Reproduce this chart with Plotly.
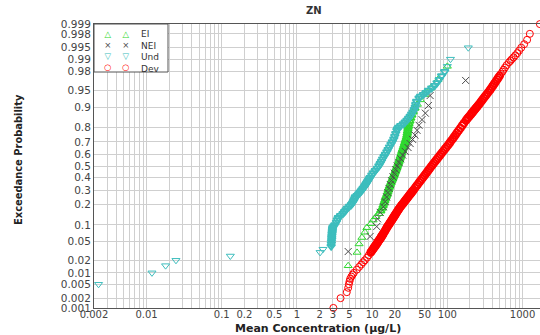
import math
import plotly.graph_objects as go
from statistics import NormalDist

# ---------------- data ----------------
ei_p = [0.0149, 0.0299, 0.0448, 0.0597, 0.0746, 0.0896, 0.1045, 0.1194, 0.1343, 0.1493,
        0.1642, 0.1791, 0.194, 0.209, 0.224, 0.239, 0.254, 0.269, 0.284, 0.299,
        0.313, 0.328, 0.343, 0.358, 0.373, 0.388, 0.403, 0.418, 0.433, 0.448,
        0.463, 0.478, 0.493, 0.507, 0.522, 0.537, 0.552, 0.567, 0.582, 0.597,
        0.612, 0.627, 0.642, 0.657, 0.672, 0.687, 0.701, 0.716, 0.731, 0.746,
        0.761, 0.776, 0.791, 0.806, 0.821, 0.836, 0.851, 0.866, 0.881, 0.896,
        0.910, 0.925, 0.940, 0.955, 0.970, 0.985]
ei_c = [4.8, 6.3, 6.7, 7.3, 8.0, 8.5, 9.6, 10.3, 11.2, 12.3,
        13.0, 13.6, 14.0, 14.4, 14.7, 15.0, 15.4, 15.8, 16.1, 16.4,
        16.7, 17.0, 17.4, 17.8, 18.2, 18.6, 19.0, 19.4, 19.8, 20.2,
        20.6, 21.0, 21.4, 21.8, 22.2, 22.6, 23.0, 23.4, 23.8, 24.2,
        24.6, 25.0, 25.5, 26.0, 26.5, 27.0, 27.5, 28.0, 28.5, 29.0,
        29.3, 29.6, 29.9, 30.3, 30.8, 31.6, 32.5, 33.5, 35.0, 37.0,
        40.0, 44.0, 50.0, 60.0, 75.0, 100.0]

nei_p = [0.03125, 0.0625, 0.09375, 0.125, 0.15625, 0.1875, 0.21875, 0.25, 0.28125, 0.3125,
         0.34375, 0.375, 0.40625, 0.4375, 0.46875, 0.5, 0.53125, 0.5625, 0.59375, 0.625,
         0.65625, 0.6875, 0.71875, 0.75, 0.78125, 0.8125, 0.84375, 0.875, 0.90625, 0.9375,
         0.96875]
nei_c = [4.8, 9.4, 11.5, 11.8, 12.8, 14.1, 14.9, 15.6, 16.2, 16.8,
         17.4, 18.1, 18.9, 19.7, 20.6, 21.5, 22.7, 24.0, 25.5, 27.5,
         30.0, 32.0, 34.5, 37.0, 39.5, 42.0, 46.0, 51.0, 56.0, 59.0,
         175.0]

und_p = [0.005, 0.010, 0.015, 0.020, 0.025, 0.030, 0.035, 0.040, 0.045, 0.050,
         0.055, 0.060, 0.065, 0.070, 0.075, 0.080, 0.085, 0.090, 0.095, 0.10,
         0.11, 0.12, 0.13, 0.14, 0.15, 0.16, 0.17, 0.18, 0.19, 0.20,
         0.21, 0.22, 0.23, 0.24, 0.25, 0.26, 0.27, 0.28, 0.29, 0.30,
         0.31, 0.32, 0.33, 0.34, 0.35, 0.36, 0.37, 0.38, 0.39, 0.40,
         0.42, 0.44, 0.46, 0.48, 0.50, 0.52, 0.54, 0.56, 0.58, 0.60,
         0.62, 0.64, 0.66, 0.68, 0.70, 0.72, 0.74, 0.76, 0.78, 0.79,
         0.80, 0.81, 0.82, 0.83, 0.84, 0.85, 0.86, 0.87, 0.88, 0.89,
         0.90, 0.91, 0.92, 0.93, 0.935, 0.94, 0.945, 0.95, 0.955, 0.96,
         0.965, 0.97, 0.975, 0.98, 0.985, 0.99, 0.995]
und_c = [0.0023, 0.0118, 0.0179, 0.0246, 0.13, 2.03, 2.22, 2.85, 2.87, 2.88,
         2.9, 2.9, 2.92, 2.93, 2.95, 2.96, 2.98, 3.0, 3.1, 3.2,
         3.35, 3.45, 3.55, 3.8, 4.1, 4.3, 4.5, 4.7, 5.0, 5.3,
         5.5, 5.65, 5.8, 5.9, 6.0, 6.3, 6.6, 6.85, 7.1, 7.3,
         7.55, 7.8, 8.0, 8.2, 8.4, 8.6, 8.8, 9.0, 9.2, 9.4,
         9.9, 10.4, 11.0, 11.7, 12.3, 12.8, 13.3, 13.8, 14.4, 15.0,
         15.7, 16.3, 17.0, 17.8, 18.6, 19.4, 20.0, 20.6, 21.3, 21.8,
         22.5, 24.0, 26.0, 27.5, 29.0, 30.5, 32.0, 33.5, 35.0, 36.3,
         37.4, 38.0, 39.0, 42.0, 44.0, 48.0, 52.0, 56.0, 62.0, 68.0,
         73.0, 78.0, 84.0, 92.0, 100.0, 110.0, 190.0]

dev_p = [0.001, 0.002, 0.003, 0.004, 0.005, 0.006, 0.007, 0.008, 0.009, 0.010,
         0.012, 0.014, 0.016, 0.018, 0.020, 0.023, 0.026, 0.030, 0.032, 0.034,
         0.036, 0.038, 0.040, 0.042, 0.044, 0.046, 0.048, 0.050, 0.0525, 0.055,
         0.0575, 0.060, 0.0625, 0.065, 0.0675, 0.070, 0.075, 0.080, 0.085, 0.090,
         0.095, 0.100, 0.105, 0.110, 0.115, 0.120, 0.125, 0.130, 0.135, 0.140,
         0.145, 0.150, 0.1575, 0.165, 0.1725, 0.180, 0.1875, 0.195, 0.2025, 0.210,
         0.2175, 0.225, 0.2325, 0.240, 0.2475, 0.255, 0.2625, 0.270, 0.2775, 0.285,
         0.2925, 0.300, 0.315, 0.330, 0.345, 0.360, 0.375, 0.390, 0.405, 0.420,
         0.435, 0.450, 0.465, 0.480, 0.495, 0.510, 0.525, 0.540, 0.555, 0.570,
         0.585, 0.600, 0.615, 0.630, 0.645, 0.660, 0.675, 0.690, 0.705, 0.720,
         0.735, 0.750, 0.765, 0.780, 0.795, 0.810, 0.825, 0.840, 0.8475, 0.855,
         0.8625, 0.870, 0.875, 0.880, 0.885, 0.890, 0.895, 0.900, 0.905, 0.910,
         0.915, 0.920, 0.925, 0.930, 0.935, 0.940, 0.945, 0.950, 0.954, 0.958,
         0.961, 0.964, 0.967, 0.970, 0.9725, 0.975, 0.9775, 0.980, 0.982, 0.984,
         0.986, 0.988, 0.989, 0.990, 0.991, 0.992, 0.993, 0.994, 0.995, 0.996,
         0.997, 0.998, 0.999]
dev_c = [3.05, 3.8, 4.6, 4.8, 4.9, 5.0, 5.1, 5.3, 5.5, 5.7,
         6.25, 6.71, 7.16, 7.57, 7.98, 8.55, 9.0, 9.57, 9.84, 10.1,
         10.4, 10.6, 10.9, 11.1, 11.4, 11.6, 11.8, 12.0, 12.3, 12.6,
         12.9, 13.1, 13.3, 13.6, 13.8, 14.0, 14.5, 14.9, 15.3, 15.7,
         16.1, 16.6, 17.0, 17.4, 17.9, 18.3, 18.7, 19.1, 19.5, 19.9,
         20.3, 20.7, 21.3, 21.9, 22.5, 23.1, 23.8, 24.5, 25.2, 26.0,
         26.7, 27.5, 28.2, 29.0, 29.8, 30.5, 31.3, 32.1, 32.9, 33.7,
         34.5, 35.4, 37.0, 38.7, 40.4, 42.2, 43.9, 45.9, 47.8, 49.8,
         51.9, 54.0, 56.2, 58.5, 60.8, 63.4, 66.1, 68.9, 71.8, 74.9,
         78.2, 81.5, 85.1, 88.9, 93.0, 97.2, 102.0, 107.0, 111.0, 117.0,
         122.0, 128.0, 134.0, 141.0, 149.0, 157.0, 166.0, 177.0, 183.0, 190.0,
         198.0, 206.0, 211.0, 218.0, 224.0, 231.0, 238.0, 246.0, 254.0, 263.0,
         272.0, 282.0, 292.0, 304.0, 317.0, 331.0, 347.0, 366.0, 380.0, 396.0,
         409.0, 424.0, 440.0, 458.0, 474.0, 493.0, 514.0, 540.0, 560.0, 585.0,
         615.0, 660.0, 690.0, 720.0, 760.0, 800.0, 850.0, 900.0, 960.0, 1050.0,
         1150.0, 1250.0, 1700.0]

y_tick_probs = [0.001, 0.002, 0.005, 0.01, 0.02, 0.05, 0.1, 0.2, 0.3, 0.4, 0.5,
                0.6, 0.7, 0.8, 0.9, 0.95, 0.98, 0.99, 0.995, 0.998, 0.999]
y_tick_text = ["0.001", "0.002", "0.005", "0.01", "0.02", "0.05", "0.1", "0.2", "0.3", "0.4", "0.5",
               "0.6", "0.7", "0.8", "0.9", "0.95", "0.98", "0.99", "0.995", "0.998", "0.999"]
x_label_vals = [0.002, 0.01, 0.1, 0.2, 0.5, 1, 2, 3, 5, 10, 20, 50, 100, 1000]
x_label_text = ["0.002", "0.01", "0.1", "0.2", "0.5", "1", "2", "3", "5", "10", "20", "50", "100", "1000"]

series_names = ["EI", "NEI", "Und", "Dev"]
series_colors = ["#2fd82f", "#4a4a4a", "#3dbdbd", "#ff0000"]
series_symbols = ["triangle-up-open", "x-thin-open", "triangle-down-open", "circle-open"]
legend_glyphs = ["\u25B3", "\u00D7", "\u25BD", "\u25CB"]
# probability band where each series' points are densely packed (drawn with heavier outline)
dense_band = [(0.15, 0.9), (0.0, 0.0), (0.04, 0.98), (0.03, 0.975)]

assert len(ei_p) == len(ei_c) and len(nei_p) == len(nei_c)
assert len(und_p) == len(und_c) and len(dev_p) == len(dev_c)

# ---------------- probit transform ----------------
nd = NormalDist()
def probit(p):
    return nd.inv_cdf(p)

FONT = "DejaVu Sans, Verdana, Arial, sans-serif"

fig = go.Figure()
data = [(ei_p, ei_c), (nei_p, nei_c), (und_p, und_c), (dev_p, dev_c)]
for (ps, cs), name, col, sym, (lo, hi) in zip(data, series_names, series_colors,
                                              series_symbols, dense_band):
    widths = [1.8 if lo <= p <= hi else 1.0 for p in ps]
    fig.add_trace(go.Scatter(
        x=cs, y=[probit(p) for p in ps], mode="markers", name=name,
        cliponaxis=False, showlegend=False,
        marker=dict(symbol=sym, size=7, color=col, line=dict(width=widths, color=col)),
    ))

# x grid at every 1..9 per decade, labels only where the reference has them
x_tickvals, x_ticktext = [], []
for e in range(-3, 4):
    for m in range(1, 10):
        v = m * 10 ** e
        x_tickvals.append(v)
        lab = ""
        for lv, lt in zip(x_label_vals, x_label_text):
            if abs(lv - v) < 1e-9 * max(1, v):
                lab = lt
        x_ticktext.append(lab)

fig.update_xaxes(
    type="log", range=[math.log10(0.002), 3.232],
    tickvals=x_tickvals, ticktext=x_ticktext, ticks="", ticklabelstandoff=-3,
    showgrid=True, gridcolor="#cfcfcf", gridwidth=1,
    showline=True, linecolor="#555555", linewidth=1, mirror=True,
    zeroline=False, tickfont=dict(family=FONT, size=10, color="#444444"),
)
fig.update_yaxes(
    range=[probit(0.001) - 0.002, probit(0.999) + 0.002],
    tickvals=[probit(p) for p in y_tick_probs], ticktext=y_tick_text, ticks="",
    showgrid=True, gridcolor="#cfcfcf", gridwidth=1,
    showline=True, linecolor="#555555", linewidth=1, mirror=False,
    zeroline=False, tickfont=dict(family=FONT, size=10.5, color="#444444"),
)

PL, PT, PB = 94, 24, 308
PW, PH = 540 - PL, PB - PT
def px2paper(px, py):
    return (px - PL) / PW, (PB - py) / PH

annotations = []
# legend box
lx0, ly0 = px2paper(94, 72)
lx1, ly1 = px2paper(168, 24)
shapes = [dict(type="rect", xref="paper", yref="paper", x0=lx0, y0=ly0, x1=lx1, y1=ly1,
               fillcolor="white", line=dict(color="#555555", width=1), layer="above")]
# legend content as three multi-line text columns (two symbol columns + names)
LEG_SIZE = 8.5
glyph_col = "<br>".join('<span style="color:%s">%s</span>' % (c, g)
                        for c, g in zip(series_colors, legend_glyphs))
for sx in (107, 125):
    ax, ay = px2paper(sx, 27)
    annotations.append(dict(xref="paper", yref="paper", x=ax, y=ay, text=glyph_col,
                            showarrow=False, xanchor="center", yanchor="top", align="center",
                            font=dict(family=FONT, size=LEG_SIZE, color="#333333")))
ax, ay = px2paper(139, 27)
annotations.append(dict(xref="paper", yref="paper", x=ax, y=ay, text="<br>".join(series_names),
                        showarrow=False, xanchor="left", yanchor="top", align="left",
                        font=dict(family=FONT, size=LEG_SIZE + 0.5, color="#333333")))

# titles
tx, ty = px2paper(314, 10)
annotations.append(dict(xref="paper", yref="paper", x=tx, y=ty, text="<b>ZN</b>",
                        showarrow=False, xanchor="center", yanchor="middle",
                        font=dict(family=FONT, size=10, color="#333333")))
tx, ty = px2paper(318, 328)
annotations.append(dict(xref="paper", yref="paper", x=tx, y=ty, text="<b>Mean Concentration (µg/L)</b>",
                        showarrow=False, xanchor="center", yanchor="middle",
                        font=dict(family=FONT, size=11, color="#222222")))
tx, ty = px2paper(18, 160)
annotations.append(dict(xref="paper", yref="paper", x=tx, y=ty, text="<b>Exceedance Probability</b>",
                        showarrow=False, xanchor="center", yanchor="middle", textangle=-90,
                        font=dict(family="Liberation Sans Narrow, DejaVu Sans Condensed, Arial Narrow, sans-serif",
                                  size=11, color="#222222")))

fig.update_layout(
    width=540, height=335,
    margin=dict(l=PL, r=0, t=PT, b=335 - PB),
    paper_bgcolor="white", plot_bgcolor="white",
    showlegend=False, shapes=shapes, annotations=annotations,
)

fig.write_html("out.html")
